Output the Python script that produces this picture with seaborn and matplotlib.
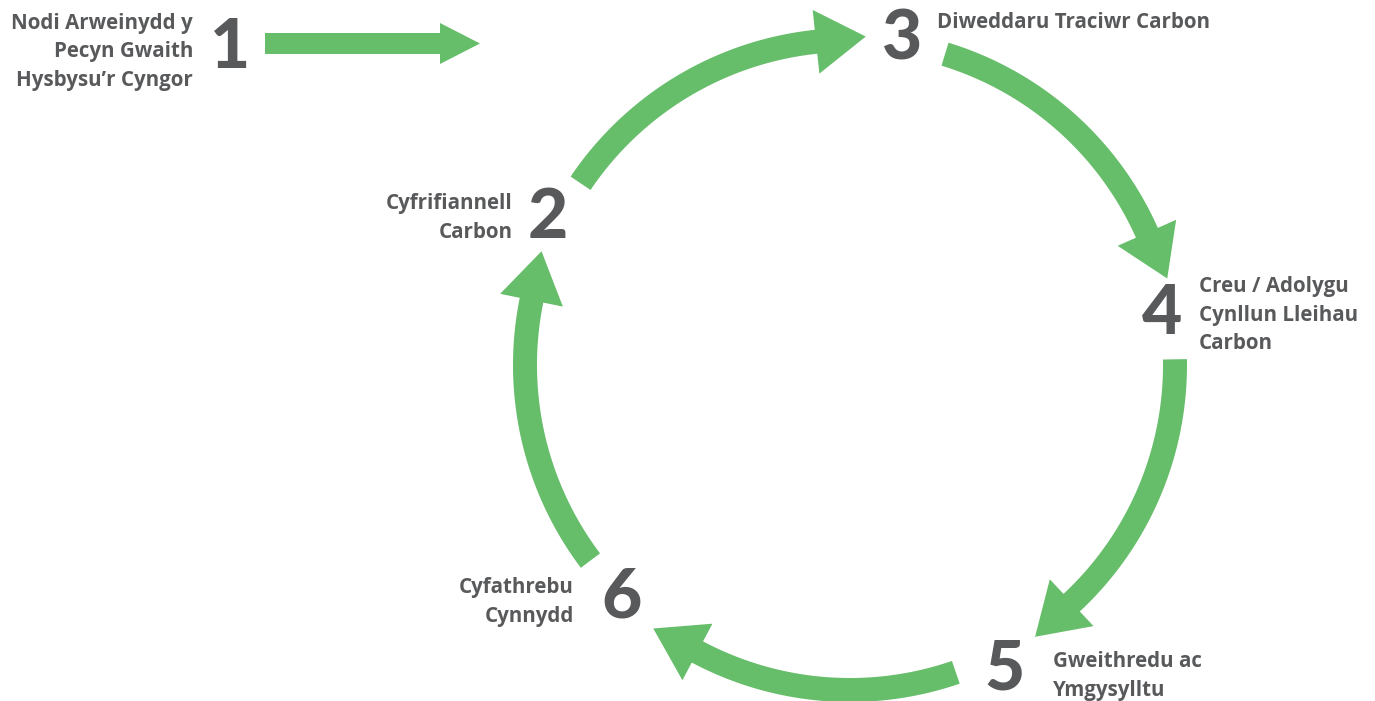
import numpy as np
import matplotlib
matplotlib.use("Agg")
import matplotlib.pyplot as plt
import seaborn as sns

# steps of the cycle
step_numbers = ["1", "2", "3", "4", "5", "6"]
step_labels = [
    "Nodi Arweinydd y\nPecyn Gwaith\nHysbysu\u2019r Cyngor",
    "Cyfrifiannell\nCarbon",
    "Diweddaru Traciwr Carbon",
    "Creu / Adolygu\nCynllun Lleihau\nCarbon",
    "Gweithredu ac\nYmgysylltu",
    "Cyfathrebu\nCynnydd",
]

# layout (pixel coordinates of the 1375x701 canvas)
CX, CY, R = 850, 365, 325
num_pos = [(230, 48), (548, 218), (902, 40), (1162, 315), (1005, 670), (622, 598)]
label_pos = [(193, 52), (513, 218), (937, 23), (1199, 315), (1053, 676), (574, 602)]
label_ha = ["right", "right", "left", "left", "left", "right"]
# arcs: (tail angle, head base angle) in degrees, running clockwise
arcs = [(146, 96), (73, 24), (1, -47), (-71, -118), (-143, -191.5)]

GREEN = "#66bd6a"
GREY = "#58595b"
SHAFT = 24
HEAD_W = 32
HEAD_L = 50


def pt(theta, rr):
    return CX + rr * np.cos(theta), CY - rr * np.sin(theta)


def arc_arrow(ax, a0, a1):
    t0, t1 = np.radians(a0), np.radians(a1)
    ts = np.linspace(t0, t1, 80)
    ox, oy = pt(ts, R + SHAFT / 2)
    ix, iy = pt(ts[::-1], R - SHAFT / 2)
    tang = np.array([np.sin(t1), np.cos(t1)])
    bx, by = pt(t1, R)
    hx1, hy1 = pt(t1, R + HEAD_W)
    hx2, hy2 = pt(t1, R - HEAD_W)
    tip = (bx + tang[0] * HEAD_L, by + tang[1] * HEAD_L)
    xs = np.concatenate([ox, [hx1, tip[0], hx2], ix])
    ys = np.concatenate([oy, [hy1, tip[1], hy2], iy])
    ax.fill(xs, ys, color=GREEN, lw=0)


sns.set_theme(style="white")
plt.rcParams["font.family"] = ["Open Sans", "DejaVu Sans"]

fig = plt.figure(figsize=(13.75, 7.01), dpi=100)
ax = fig.add_axes([0, 0, 1, 1])
ax.set_xlim(0, 1375)
ax.set_ylim(701, 0)
ax.set_aspect("equal")
ax.axis("off")

# straight arrow from step 1
ax.fill([265, 440, 440, 480, 440, 440, 265],
        [33, 33, 23, 43.5, 64, 54, 54], color=GREEN, lw=0)

for a0, a1 in arcs:
    arc_arrow(ax, a0, a1)

for num, (nx, ny), lab, (lx, ly), ha in zip(step_numbers, num_pos, step_labels, label_pos, label_ha):
    ax.text(nx, ny, num, fontsize=50, fontweight="black", color=GREY,
            ha="center", va="center", family=["Lato", "DejaVu Sans"])
    ax.text(lx, ly, lab, fontsize=14.8, fontweight="bold", color=GREY,
            ha=ha, va="center", multialignment=ha, linespacing=1.45)

fig.savefig("out.png", dpi=100)
